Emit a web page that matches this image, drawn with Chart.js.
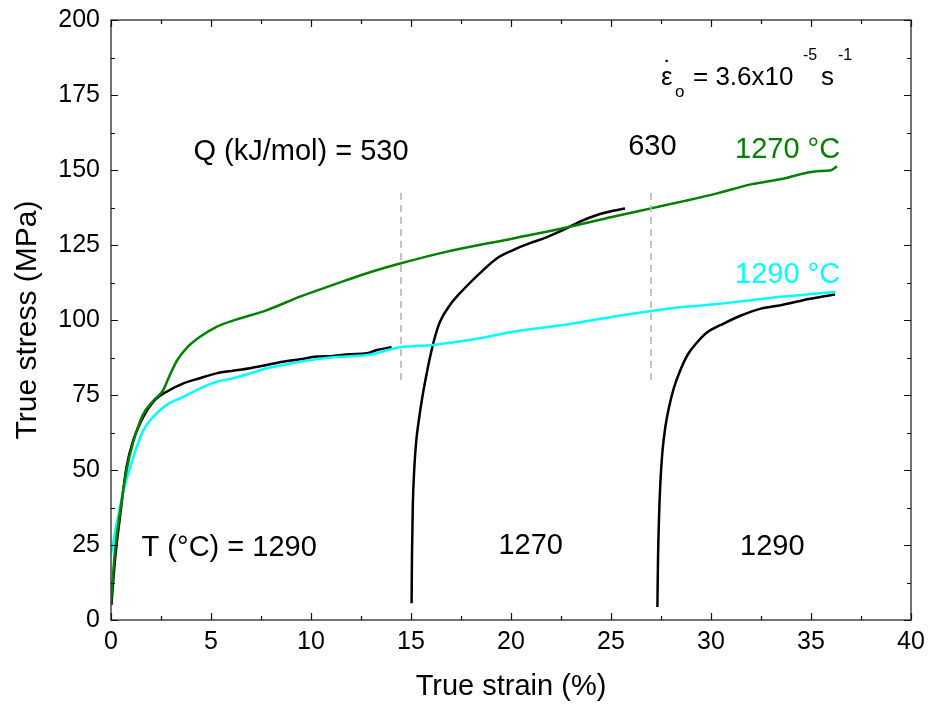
<!DOCTYPE html>
<html>
<head>
<meta charset="utf-8">
<script src="https://cdn.jsdelivr.net/npm/chart.js@4.4.1/dist/chart.umd.min.js"></script>
<style>
  body { margin: 0; background: #fff; }
  canvas { display: block; }
</style>
</head>
<body>
<canvas id="stress-chart" width="932" height="706"></canvas>
<script>
// 1270 °C test (green)
const green1270X = [0, 0.2, 0.45, 0.78, 1.1, 1.6, 2.1, 2.6, 2.9, 3.3, 3.8, 4.45, 5.3, 6.1, 7.8, 9.45, 11.1, 12.8, 14.5, 16.8, 20.1, 22.6, 25.1, 27.0, 28.7, 30.3, 32.0, 33.6, 35.3, 35.95, 36.3];
const green1270Y = [6, 23, 36, 50, 59, 68.5, 73, 76.5, 81, 86.5, 90.8, 94.4, 97.8, 99.8, 103.3, 107.8, 111.7, 115.6, 118.9, 122.8, 127.2, 130.6, 134.4, 137.2, 139.7, 142.2, 145.2, 147.1, 149.6, 149.8, 151.2];

// 1290 °C test (cyan)
const cyan1290X = [0, 0.28, 0.62, 1.12, 1.62, 2.12, 2.78, 3.62, 4.45, 5.28, 6.1, 6.95, 7.78, 8.6, 9.45, 11.1, 12.8, 14.45, 16.1, 18.45, 20.1, 22.6, 25.1, 27.0, 28.7, 30.3, 32.0, 33.6, 35.3, 36.2];
const cyan1290Y = [22, 32, 43, 54.4, 63.3, 67.8, 71.7, 74.4, 77.2, 79.4, 80.6, 82.2, 83.9, 85, 86.1, 87.6, 88.3, 90.9, 91.7, 93.9, 96.1, 98.3, 101.1, 103.0, 104.4, 105.3, 106.6, 107.8, 108.8, 109.4];

// temperature change test (black), three segments
const blackAX = [0.02, 0.2, 0.45, 0.78, 1.12, 1.62, 2.12, 2.78, 3.62, 4.45, 5.28, 6.1, 6.95, 7.78, 8.6, 9.45, 10.3, 11.1, 11.95, 12.8, 13.3, 14.03];
const blackAY = [5, 20, 34.4, 51.1, 60, 67.8, 72.8, 76.1, 78.9, 80.6, 82.2, 83.1, 83.9, 85, 86.1, 86.9, 87.8, 88, 88.6, 88.9, 90, 90.9];
const blackBX = [15.03, 15.05, 15.09, 15.16, 15.26, 15.4, 15.56, 15.75, 15.97, 16.2, 16.45, 16.95, 17.6, 18.45, 19.3, 20.1, 20.95, 21.8, 22.6, 23.45, 24.3, 25.1, 25.7];
const blackBY = [5.6, 22, 38, 50, 59.5, 67, 74, 81, 88.2, 94.4, 99.4, 105, 110, 115.6, 120.6, 123.3, 125.6, 127.6, 130, 132.8, 135, 136.4, 137.2];
const blackCX = [27.32, 27.35, 27.4, 27.47, 27.57, 27.72, 27.92, 28.15, 28.45, 28.84, 29.3, 29.8, 30.66, 31.5, 32.5, 33.6, 34.6, 36.2];
const blackCY = [4.3, 20, 34, 46, 56, 64.5, 71.5, 77.5, 83, 88.5, 92.5, 95.8, 98.9, 101.5, 103.8, 105.1, 106.6, 108.5];

// dashed markers where the temperature was changed
const changeX = [14.5, 27];
const changeY = [80, 144];

// axis ticks
const xTicks = [0, 5, 10, 15, 20, 25, 30, 35, 40];
const yTicks = [0, 25, 50, 75, 100, 125, 150, 175, 200];

const toPoints = (xs, ys) => xs.map((x, i) => ({x: x, y: ys[i]}));

const curve = (xs, ys, color) => ({
    data: toPoints(xs, ys),
    borderColor: color,
    borderWidth: 2.5,
    pointRadius: 0,
    showLine: true,
    cubicInterpolationMode: 'monotone',
    fill: false
});

const dashed = x => ({
    data: changeY.map(y => ({x: x, y: y})),
    borderColor: '#b4b4b4',
    borderWidth: 1.6,
    borderDash: [7, 5],
    pointRadius: 0,
    showLine: true
});

// text placed in data units, baseline alphabetic
const notes = [
    {text: 'Q (kJ/mol) = 530', x: 4.12, y: 153.3, color: '#000', size: 29},
    {text: '630', x: 25.86, y: 155.1, color: '#000', size: 29},
    {text: '1270 °C', x: 31.2, y: 153.9, color: 'rgb(0,128,0)', size: 29},
    {text: '1290 °C', x: 31.2, y: 112.2, color: '#00ffff', size: 29},
    {text: 'T (°C) = 1290', x: 1.53, y: 21.3, color: '#000', size: 29},
    {text: '1270', x: 19.37, y: 22, color: '#000', size: 29},
    {text: '1290', x: 31.45, y: 21.6, color: '#000', size: 29},
    // strain rate label
    {text: 'ε', x: 27.5, y: 178.3, color: '#000', size: 26},
    {text: '˙', x: 27.62, y: 180.2, color: '#000', size: 26},
    {text: 'o', x: 28.2, y: 174.5, color: '#000', size: 17},
    {text: '= 3.6x10', x: 29.1, y: 178.3, color: '#000', size: 26},
    {text: '-5', x: 34.6, y: 186.7, color: '#000', size: 16},
    {text: 's', x: 35.5, y: 178.3, color: '#000', size: 26},
    {text: '-1', x: 36.35, y: 186.7, color: '#000', size: 16}
];

// frame, inward ticks and annotations
const framePlugin = {
    id: 'frame',
    afterDraw(chart) {
        const {ctx, chartArea: a, scales: {x, y}} = chart;
        ctx.save();
        ctx.strokeStyle = '#444';
        ctx.lineWidth = 1.5;
        ctx.strokeRect(a.left, a.top, a.right - a.left, a.bottom - a.top);

        ctx.strokeStyle = '#111';
        ctx.lineWidth = 1.2;
        ctx.beginPath();
        for (let v = 0; v <= 40; v += 2.5) {
            const px = Math.round(x.getPixelForValue(v)) + 0.5;
            const len = v % 5 === 0 ? 7 : 4;
            ctx.moveTo(px, a.bottom); ctx.lineTo(px, a.bottom - len);
            ctx.moveTo(px, a.top); ctx.lineTo(px, a.top + len);
        }
        for (let v = 0; v <= 200; v += 12.5) {
            const py = Math.round(y.getPixelForValue(v)) + 0.5;
            const len = v % 25 === 0 ? 7 : 4;
            ctx.moveTo(a.left, py); ctx.lineTo(a.left + len, py);
            ctx.moveTo(a.right, py); ctx.lineTo(a.right - len, py);
        }
        ctx.stroke();

        ctx.textAlign = 'left';
        ctx.textBaseline = 'alphabetic';
        notes.forEach(n => {
            ctx.font = n.size + 'px "Liberation Sans", Arial, sans-serif';
            ctx.fillStyle = n.color;
            ctx.fillText(n.text, x.getPixelForValue(n.x), y.getPixelForValue(n.y));
        });
        ctx.restore();
    }
};

Chart.defaults.font.family = '"Liberation Sans", Arial, sans-serif';
Chart.defaults.color = '#000';

const chart = new Chart(document.getElementById('stress-chart'), {
    type: 'scatter',
    data: {
        datasets: [
            dashed(changeX[0]),
            dashed(changeX[1]),
            curve(green1270X, green1270Y, 'rgb(0,128,0)'),
            curve(cyan1290X, cyan1290Y, '#00ffff'),
            curve(blackAX, blackAY, '#000'),
            curve(blackBX, blackBY, '#000'),
            curve(blackCX, blackCY, '#000')
        ]
    },
    options: {
        responsive: false,
        animation: false,
        layout: {
            padding: {top: 20, right: 21, left: 0, bottom: 0}
        },
        plugins: {
            legend: {display: false},
            tooltip: {enabled: false}
        },
        scales: {
            x: {
                type: 'linear',
                min: 0,
                max: 40,
                afterBuildTicks: s => { s.ticks = xTicks.map(v => ({value: v})); },
                afterFit: s => { s.height = 86; s.paddingLeft = 0; s.paddingRight = 0; },
                grid: {display: false, drawTicks: false},
                border: {display: false},
                ticks: {font: {size: 25}, padding: 7, maxRotation: 0},
                title: {
                    display: true,
                    text: 'True strain (%)',
                    font: {size: 29},
                    padding: {top: 0, bottom: 2}
                }
            },
            y: {
                type: 'linear',
                min: 0,
                max: 200,
                afterBuildTicks: s => { s.ticks = yTicks.map(v => ({value: v})); },
                afterFit: s => { s.width = 111; s.paddingTop = 0; s.paddingBottom = 0; },
                grid: {display: false, drawTicks: false},
                border: {display: false},
                ticks: {font: {size: 25}, padding: 11},
                title: {
                    display: true,
                    text: 'True stress (MPa)',
                    font: {size: 30},
                    padding: {top: 10, bottom: 0}
                }
            }
        }
    },
    plugins: [framePlugin]
});
</script>
</body>
</html>
